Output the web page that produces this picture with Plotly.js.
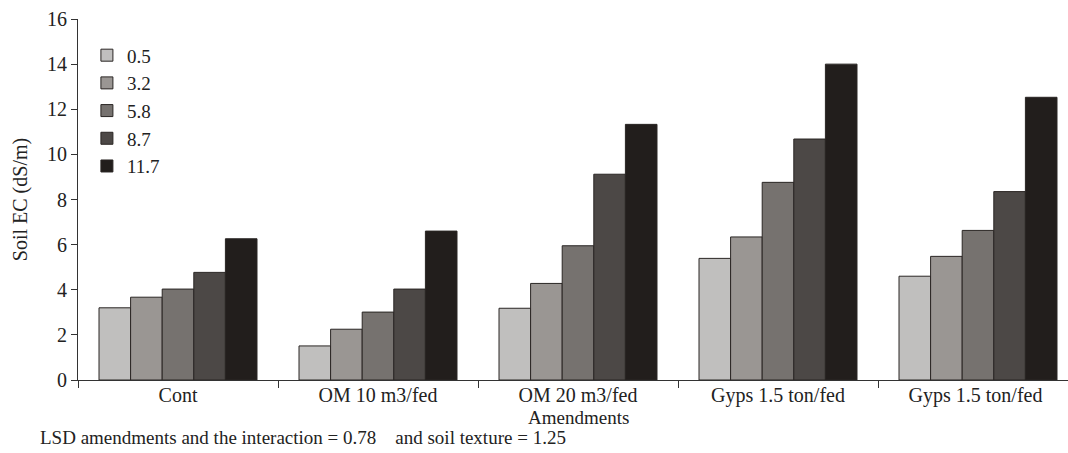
<!DOCTYPE html>
<html>
<head>
<meta charset="utf-8">
<script src="https://cdn.plot.ly/plotly-3.0.1.min.js"></script>
<style>html,body{margin:0;padding:0;background:#fff;}#chart{width:1068px;height:453px;}</style>
</head>
<body>
<div id="chart"></div>
<script>
const categories = ["Cont", "OM 10 m3/fed", "OM 20 m3/fed", "Gyps 1.5 ton/fed", "Gyps 1.5 ton/fed "];
const seriesNames = ["0.5", "3.2", "5.8", "8.7", "11.7"];
const s05  = [3.2, 1.51, 3.18, 5.39, 4.6];
const s32  = [3.67, 2.25, 4.28, 6.34, 5.48];
const s58  = [4.03, 3.01, 5.95, 8.76, 6.63];
const s87  = [4.77, 4.03, 9.12, 10.68, 8.35];
const s117 = [6.26, 6.6, 11.33, 14.0, 12.53];
const colors = ["#c0bfbe", "#9a9693", "#76726f", "#4c4846", "#221e1c"];
const yTicks = [0, 2, 4, 6, 8, 10, 12, 14, 16];
const xTitle = "Amendments";
const noteText = "LSD amendments and the interaction = 0.78    and soil texture = 1.25";

const seriesVals = [s05, s32, s58, s87, s117];
const font = "'Liberation Serif'";
const traces = seriesVals.map((v, i) => ({
  type: "bar",
  name: seriesNames[i],
  x: categories,
  y: v,
  marker: {color: colors[i], line: {color: "#2a2624", width: 1}}
}));

const layout = {
  width: 1068, height: 453,
  margin: {l: 78, r: 0, t: 19, b: 73},
  paper_bgcolor: "#fff", plot_bgcolor: "#fff",
  font: {family: font, size: 18, color: "#222"},
  barmode: "group", bargap: 0.21, bargroupgap: 0,
  showlegend: true,
  legend: {x: 0.009, y: 0.952, xanchor: "left", yanchor: "top",
           font: {family: font, size: 19, color: "#222"},
           tracegroupgap: 0, itemwidth: 30, bgcolor: "rgba(0,0,0,0)"},
  xaxis: {
    type: "category", range: [-0.5, 4.45],
    showline: true, linecolor: "#333", linewidth: 1,
    ticks: "outside", tickson: "boundaries", ticklen: 7, tickcolor: "#333",
    ticklabelstandoff: -3,
    tickfont: {family: font, size: 20, color: "#222"},
    showgrid: false, zeroline: false
  },
  yaxis: {
    range: [0, 16], tickvals: yTicks,
    showline: true, linecolor: "#333", linewidth: 1,
    ticks: "outside", ticklen: 6, tickcolor: "#333",
    tickfont: {family: font, size: 20, color: "#222"},
    showgrid: false, zeroline: false,
    title: {text: "Soil EC (dS/m)", font: {family: font, size: 20, color: "#222"}, standoff: 14}
  },
  annotations: [
    {xref: "x", yref: "paper", x: 2, y: -0.104, xanchor: "center", yanchor: "middle",
     text: xTitle, showarrow: false, font: {family: font, size: 19, color: "#222"}},
    {xref: "paper", yref: "paper", x: -0.04, y: -0.16, xanchor: "left", yanchor: "middle",
     text: noteText, showarrow: false, font: {family: font, size: 19, color: "#222"}}
  ]
};
Plotly.newPlot("chart", traces, layout, {staticPlot: true, displayModeBar: false});
</script>
</body>
</html>
